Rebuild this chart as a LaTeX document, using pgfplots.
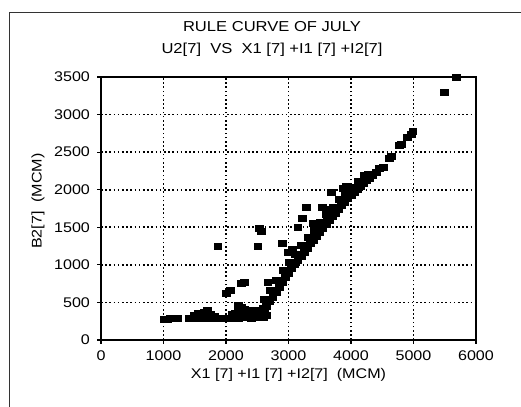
\documentclass[border=0pt]{standalone}
\usepackage{fontspec}
\setmainfont{Liberation Sans}[FakeStretch=1.15]
\usepackage{pgfplots}
\usepackage{pgfplotstable}
\pgfplotsset{compat=1.18}
\pgfplotstableread{
x y
1010 280
1060 280
1110 285
1170 285
1230 290
1420 285
1470 290
1520 290
1560 300
1600 295
1640 290
1680 300
1720 290
1760 295
1800 290
1850 285
1900 290
1950 285
2000 290
2050 285
2100 290
2150 295
2200 290
2250 300
2300 295
2350 300
2400 290
2450 300
2500 295
2550 310
1500 330
1560 350
1620 360
1660 370
1700 400
1750 340
1820 320
2100 340
2150 360
2200 380
2250 400
2300 410
2350 380
2400 400
2450 390
2500 360
2550 380
2600 420
2200 460
2250 430
2320 350
2420 340
2600 300
2650 330
2620 400
2010 620
2070 660
2240 750
2290 760
2650 450
2700 510
2750 570
2800 635
2850 700
2900 765
2950 830
3000 890
3050 950
3100 1005
3150 1060
3200 1115
3250 1170
3300 1225
3350 1280
3400 1330
3450 1380
3500 1430
3550 1480
3600 1535
3650 1590
3700 1640
3750 1690
3800 1740
3850 1790
3900 1835
3950 1880
4000 1920
4050 1960
4100 2000
4150 2040
4200 2080
4250 2120
4300 2155
4350 2190
4400 2230
4460 2280
4520 2300
4620 2420
4650 2440
4780 2590
4800 2600
4900 2700
4960 2740
4990 2780
5490 3300
5690 3500
2610 540
2710 665
2810 795
2910 920
3010 1035
3110 1145
3210 1255
3310 1360
3410 1460
3510 1565
3610 1670
3710 1770
3810 1865
3910 1950
4010 2030
4110 2110
4210 2185
1870 1240
2510 1240
2530 1480
2570 1440
2670 770
2900 1290
3060 1200
3000 1160
3150 1500
3220 1620
3290 1760
3390 1550
3460 1530
3540 1760
3600 1740
3620 1640
3690 1960
3880 2020
3930 2040
4270 2200
4320 2190
}\julydata
\begin{document}
\begin{tikzpicture}
\useasboundingbox (0,0) rectangle (260.5pt,203.5pt);
\draw[line width=0.5pt,black!80] (5pt,-2pt) -- (5pt,197pt) -- (262pt,197pt);
\begin{axis}[
 at={(50.5pt,33.5pt)}, anchor=south west,
 scale only axis, width=187.5pt, height=131.5pt,
 xmin=0,xmax=6000,ymin=0,ymax=3500,
 xtick={0,1000,...,6000}, ytick={0,500,...,3500},
 grid=major,
 major grid style={black, line width=0.8pt, dash pattern=on 0.8pt off 1.3pt},
 axis line style={line width=0.8pt},
 tick align=outside, major tick length=2pt, tick style={black,line width=0.6pt},
 xtick pos=bottom, ytick pos=left,
 /pgf/number format/assume math mode=true,
 /pgf/number format/1000 sep={},
 tick label style={font=\fontsize{7}{8}\selectfont},
 label style={font=\fontsize{7}{8}\selectfont},
 xlabel={X1 [7] +I1 [7] +I2[7]\ \ (MCM)},
 ylabel={B2[7]\ \ (MCM)},
 xlabel style={at={(axis description cs:0.5,-0.133)},anchor=center},
 ylabel style={at={(axis description cs:-0.168,0.528)},anchor=center},
 title={RULE CURVE OF JULY\\U2[7]\ \ VS\ \ X1 [7] +I1 [7] +I2[7]},
 title style={at={(axis description cs:0.456,1.10)},anchor=center,align=center,font=\fontsize{7.2}{11}\selectfont},
 clip=false,
]
\addplot[only marks, mark=square*, mark size=1.5pt, mark options={xscale=1.3,black,draw=black,fill=black}] table {\julydata};
\end{axis}
\end{tikzpicture}
\end{document}
